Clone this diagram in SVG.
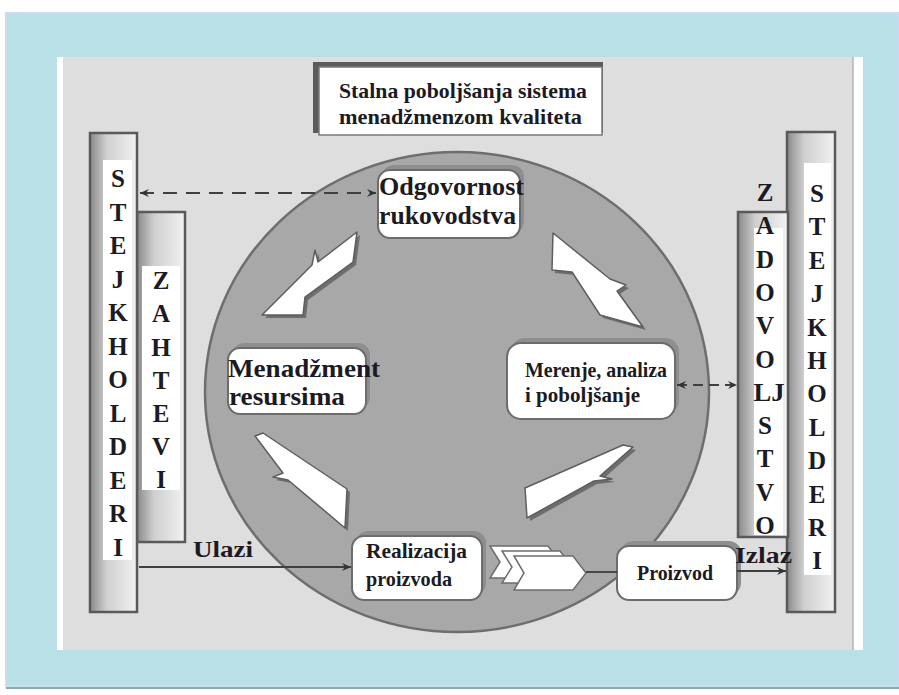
<svg xmlns="http://www.w3.org/2000/svg" width="899" height="695" viewBox="0 0 899 695">
<style>
.t{font-family:"Liberation Serif","DejaVu Serif",serif;font-weight:bold;fill:#1c1a22}
.v{font-size:25px;text-anchor:middle}
.box{fill:#ffffff;stroke:#6c6c6c;stroke-width:2}
.sh{fill:#8e8e8e}
.bolt{fill:#ffffff;stroke:#5e5e5e;stroke-width:1.5;stroke-linejoin:round}
.boltsh{fill:#5a5a5a;opacity:0.75}
.bar{stroke:#5a5a5a;stroke-width:2.5}
.strip{fill:#ffffff}
.ln{stroke:#3f3f3f;stroke-width:1.8;fill:none}
</style>
<defs>
<linearGradient id="gb" x1="0" y1="0" x2="1" y2="0">
<stop offset="0" stop-color="#8a8a8a"/><stop offset="0.35" stop-color="#cfcfcf"/><stop offset="1" stop-color="#f2f2f2"/>
</linearGradient>
<marker id="ah" markerWidth="10" markerHeight="10" refX="9" refY="5" orient="auto-start-reverse" markerUnits="userSpaceOnUse">
<path d="M0,1 L9,5 L0,9 L3,5 Z" fill="#333333"/>
</marker>
</defs>
<!-- frame -->
<rect x="0" y="0" width="899" height="695" fill="#ffffff"/>
<rect x="6" y="13" width="893" height="676" fill="#8fa6b3"/>
<rect x="6" y="13" width="893" height="673" fill="#b9dfe7" stroke="#c9dcf0" stroke-width="2"/>
<rect x="57" y="57" width="806" height="593" fill="#ffffff"/>
<rect x="63" y="57" width="790" height="593" fill="#dedede"/>
<line x1="853" y1="57" x2="853" y2="650" stroke="#b4b4b4" stroke-width="1.5"/>

<!-- title -->
<g id="title">
<rect x="313" y="62" width="290" height="71" fill="#5c5c5c"/>
<rect x="319" y="67" width="283" height="68" fill="#ffffff" stroke="#7a7a7a" stroke-width="1.5"/>
<text class="t" x="339" y="98" font-size="22" textLength="248" lengthAdjust="spacingAndGlyphs">Stalna poboljšanja sistema</text>
<text class="t" x="339" y="124" font-size="22" textLength="243" lengthAdjust="spacingAndGlyphs">menadžmenzom kvaliteta</text>
</g>

<!-- circle -->
<ellipse cx="457" cy="392" rx="252" ry="240" fill="#a8a8a8" stroke="#6e6e6e" stroke-width="2.5"/>

<!-- left bars -->
<g id="zahtevi">
<rect class="bar" x="137" y="212" width="48" height="330" fill="url(#gb)"/>
<rect class="strip" x="142" y="266" width="38" height="224"/>
<text class="t v" x="161" y="289">Z</text>
<text class="t v" x="161" y="322">A</text>
<text class="t v" x="161" y="355.5">H</text>
<text class="t v" x="161" y="388.5">T</text>
<text class="t v" x="161" y="422">E</text>
<text class="t v" x="161" y="455">V</text>
<text class="t v" x="161" y="488">I</text>
</g>
<g id="stejkholderi-left">
<rect class="bar" x="90" y="133" width="47" height="479" fill="url(#gb)"/>
<rect class="strip" x="103" y="160" width="29" height="400"/>
<text class="t v" x="118" y="187">S</text>
<text class="t v" x="118" y="220.5">T</text>
<text class="t v" x="118" y="254">E</text>
<text class="t v" x="118" y="287.5">J</text>
<text class="t v" x="118" y="321">K</text>
<text class="t v" x="118" y="354.5">H</text>
<text class="t v" x="118" y="388">O</text>
<text class="t v" x="118" y="421.5">L</text>
<text class="t v" x="118" y="455">D</text>
<text class="t v" x="118" y="488.5">E</text>
<text class="t v" x="118" y="522">R</text>
<text class="t v" x="118" y="555.5">I</text>
</g>

<!-- right bars -->
<g id="stejkholderi-right">
<rect class="bar" x="787" y="132" width="48" height="480" fill="url(#gb)"/>
<rect class="strip" x="804" y="163" width="27" height="412"/>
<text class="t v" x="817" y="202">S</text>
<text class="t v" x="817" y="235.4">T</text>
<text class="t v" x="817" y="268.8">E</text>
<text class="t v" x="817" y="302.2">J</text>
<text class="t v" x="817" y="335.6">K</text>
<text class="t v" x="817" y="369">H</text>
<text class="t v" x="817" y="402.4">O</text>
<text class="t v" x="817" y="435.8">L</text>
<text class="t v" x="817" y="469.2">D</text>
<text class="t v" x="817" y="502.6">E</text>
<text class="t v" x="817" y="536">R</text>
<text class="t v" x="817" y="569.4">I</text>
</g>
<g id="zadovoljstvo">
<rect class="bar" x="738" y="212" width="50" height="325" fill="url(#gb)"/>
<rect class="strip" x="754" y="228" width="29" height="307"/>
<text class="t v" x="765" y="201">Z</text>
<text class="t v" x="765" y="234.3">A</text>
<text class="t v" x="765" y="267.6">D</text>
<text class="t v" x="765" y="301">O</text>
<text class="t v" x="765" y="334">V</text>
<text class="t v" x="765" y="367.5">O</text>
<text class="t v" x="769" y="401" textLength="31" lengthAdjust="spacingAndGlyphs">LJ</text>
<text class="t v" x="765" y="434">S</text>
<text class="t v" x="765" y="467.4">T</text>
<text class="t v" x="765" y="500.7">V</text>
<text class="t v" x="765" y="534">O</text>
</g>

<!-- cycle arrows -->
<g id="arrow-tl">
<polygon class="boltsh" transform="translate(3,3)" points="357,232 318,262 315,250 312,265 262,315 303,315 305,297 353,262"/>
<polygon class="bolt" points="357,232 318,262 315,250 312,265 262,315 303,315 305,297 353,262"/>
</g>
<g id="arrow-tr">
<polygon class="boltsh" transform="translate(3,3)" points="553,233 610,279 626,285 617,291 643,327 600,315 572,272 552,270"/>
<polygon class="bolt" points="553,233 610,279 626,285 617,291 643,327 600,315 572,272 552,270"/>
</g>
<g id="arrow-bl">
<polygon class="boltsh" transform="translate(3,3)" points="255,436 263,433 347,489 345,528 288,480 273,477 283,473"/>
<polygon class="bolt" points="255,436 263,433 347,489 345,528 288,480 273,477 283,473"/>
</g>
<g id="arrow-br">
<polygon class="boltsh" transform="translate(3,3)" points="633,447 623,445 525,488 527,518 594,481 612,479 600,476"/>
<polygon class="bolt" points="633,447 623,445 525,488 527,518 594,481 612,479 600,476"/>
</g>

<!-- chevrons -->
<g id="chevrons">
<path d="M490,546 L548,546 L560,562 L548,578 L490,578 L500,562 Z" fill="#ffffff" stroke="#6c6c6c" stroke-width="1.5"/>
<path d="M502,551 L560,551 L572,567 L560,583 L502,583 L512,567 Z" fill="#ffffff" stroke="#6c6c6c" stroke-width="1.5"/>
<path d="M514,556 L573,556 L586,573 L573,590 L514,590 L524,573 Z" fill="#ffffff" stroke="#6c6c6c" stroke-width="1.5"/>
</g>

<!-- nodes -->
<g id="odgovornost">
<rect class="sh" x="382" y="165" width="142" height="68" rx="12"/>
<rect class="box" x="378" y="170" width="142" height="68" rx="12"/>
<text class="t" x="379" y="195" font-size="25" textLength="145" lengthAdjust="spacingAndGlyphs">Odgovornost</text>
<text class="t" x="379" y="224" font-size="25" textLength="137" lengthAdjust="spacingAndGlyphs">rukovodstva</text>
</g>
<g id="menadzment">
<rect class="sh" x="232" y="343" width="138" height="66" rx="12"/>
<rect class="box" x="228" y="348" width="138" height="66" rx="12"/>
<text class="t" x="228" y="377" font-size="25" textLength="152" lengthAdjust="spacingAndGlyphs">Menadžment</text>
<text class="t" x="229" y="405" font-size="25" textLength="116" lengthAdjust="spacingAndGlyphs">resursima</text>
</g>
<g id="merenje">
<rect class="sh" x="511" y="338" width="168" height="76" rx="14"/>
<rect class="box" x="507" y="343" width="168" height="76" rx="14"/>
<text class="t" x="525" y="377" font-size="21" textLength="142" lengthAdjust="spacingAndGlyphs">Merenje, analiza</text>
<text class="t" x="525" y="402" font-size="21" textLength="115" lengthAdjust="spacingAndGlyphs">i poboljšanje</text>
</g>
<g id="realizacija">
<rect class="sh" x="356" y="531" width="130" height="64" rx="12"/>
<rect class="box" x="352" y="536" width="130" height="64" rx="12"/>
<text class="t" x="366" y="558" font-size="22" textLength="101" lengthAdjust="spacingAndGlyphs">Realizacija</text>
<text class="t" x="366" y="586" font-size="22" textLength="86" lengthAdjust="spacingAndGlyphs">proizvoda</text>
</g>
<g id="proizvod">
<rect class="sh" x="621" y="541" width="120" height="54" rx="12"/>
<rect class="box" x="617" y="546" width="120" height="54" rx="12"/>
<text class="t" x="637" y="580" font-size="20" textLength="76" lengthAdjust="spacingAndGlyphs">Proizvod</text>
</g>

<!-- connectors -->
<g id="connectors">
<line class="ln" x1="140" y1="193" x2="376" y2="193" stroke-dasharray="14 9" stroke-width="2" marker-start="url(#ah)" marker-end="url(#ah)"/>
<line class="ln" x1="139" y1="567" x2="351" y2="567" marker-end="url(#ah)"/>
<line class="ln" x1="586" y1="572" x2="617" y2="572"/>
<line class="ln" x1="737" y1="571" x2="786" y2="571" marker-end="url(#ah)"/>
<line class="ln" x1="677" y1="385" x2="737" y2="385" stroke-dasharray="10 6" marker-start="url(#ah)" marker-end="url(#ah)"/>
<text class="t" x="193" y="557" font-size="24" textLength="60" lengthAdjust="spacingAndGlyphs">Ulazi</text>
<text class="t" x="735" y="563" font-size="23" textLength="57" lengthAdjust="spacingAndGlyphs">Izlaz</text>
</g>
</svg>
